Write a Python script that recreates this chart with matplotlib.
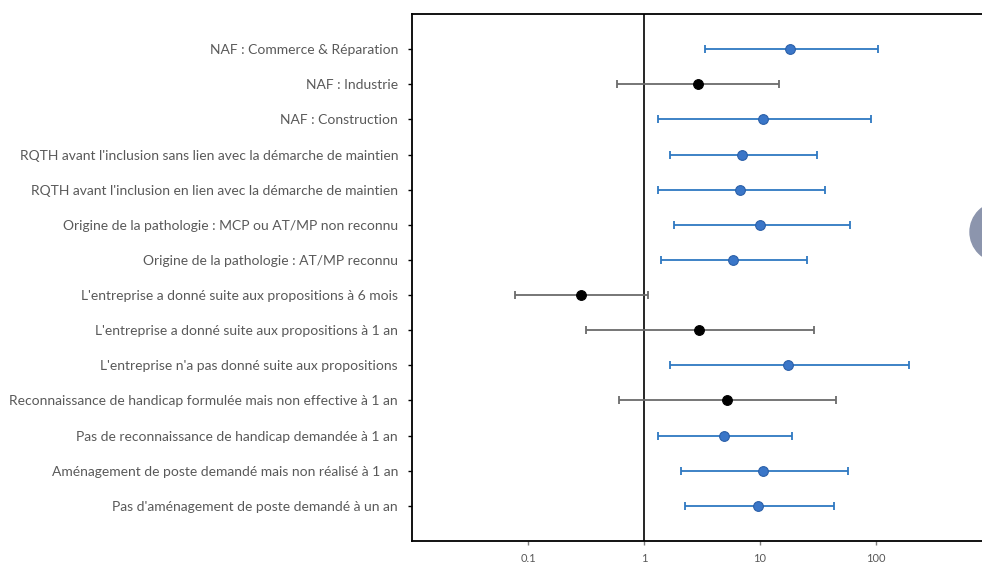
import numpy as np
import matplotlib.pyplot as plt
from matplotlib.patches import Ellipse

# Forest plot of odds ratios (log scale), rows top to bottom
labels = [
    "NAF : Commerce & Réparation",
    "NAF : Industrie",
    "NAF : Construction",
    "RQTH avant l'inclusion sans lien avec la démarche de maintien",
    "RQTH avant l'inclusion en lien avec la démarche de maintien",
    "Origine de la pathologie : MCP ou AT/MP non reconnu",
    "Origine de la pathologie : AT/MP reconnu",
    "L'entreprise a donné suite aux propositions à 6 mois",
    "L'entreprise a donné suite aux propositions à 1 an",
    "L'entreprise n'a pas donné suite aux propositions",
    "Reconnaissance de handicap formulée mais non effective à 1 an",
    "Pas de reconnaissance de handicap demandée à 1 an",
    "Aménagement de poste demandé mais non réalisé à 1 an",
    "Pas d'aménagement de poste demandé à un an",
]
odds = [18.2, 2.92, 10.6, 7.03, 6.75, 10.0, 5.88, 0.284, 2.98, 17.5, 5.19, 4.92, 10.6, 9.69]
ci_low = [3.38, 0.59, 1.31, 1.66, 1.31, 1.83, 1.39, 0.0766, 0.314, 1.67, 0.61, 1.33, 2.10, 2.26]
ci_high = [104, 14.6, 90.4, 31.0, 36.4, 59.7, 25.5, 1.087, 29.2, 192, 45.2, 18.9, 57.3, 43.1]

plt.rcParams['font.family'] = ['Lato', 'DejaVu Sans']

fig = plt.figure(figsize=(9.82, 5.63), dpi=100)
ax = fig.add_axes([412 / 982, 22 / 563, 580 / 982, 527 / 563])

n = len(labels)
ypos = np.arange(n, 0, -1)

for y, o, lo, hi in zip(ypos, odds, ci_low, ci_high):
    signif = lo > 1 or hi < 1
    if signif:
        lc, fc, ec = '#2e78c2', '#3a76c8', '#2a5fa8'
    else:
        lc, fc, ec = '#6b6b6b', 'black', 'black'
    ax.errorbar(o, y, xerr=[[o - lo], [hi - o]], fmt='none', ecolor=lc,
                elinewidth=1.3, capsize=3, capthick=1.3, zorder=2)
    ax.plot(o, y, 'o', ms=7, mfc=fc, mec=ec, mew=0.8, zorder=3)

ax.axvline(1, color='black', lw=1.2, zorder=1)

ax.set_xscale('log')
ax.set_xlim(0.01, 1000)
ax.set_ylim(0, 15)
ax.set_xticks([0.1, 1, 10, 100])
ax.set_xticklabels(['0.1', '1', '10', '100'])
ax.minorticks_off()
ax.set_yticks(ypos)
ax.set_yticklabels(labels)
ax.tick_params(axis='y', length=3, width=1, colors='black', labelcolor='#595959',
               labelsize=10, pad=7)
ax.tick_params(axis='x', length=3, width=1, colors='#7f7f7f', labelcolor='#595959',
               labelsize=8, pad=6)
for s in ax.spines.values():
    s.set_linewidth(1.3)
    s.set_color('black')

# grey round badge partly off the right edge
fig.patches.append(Ellipse((1000 / 982, 331 / 563), 60 / 982, 60 / 563,
                           transform=fig.transFigure, color='#8c95ad', zorder=5))

fig.savefig('out.png', dpi=100)
